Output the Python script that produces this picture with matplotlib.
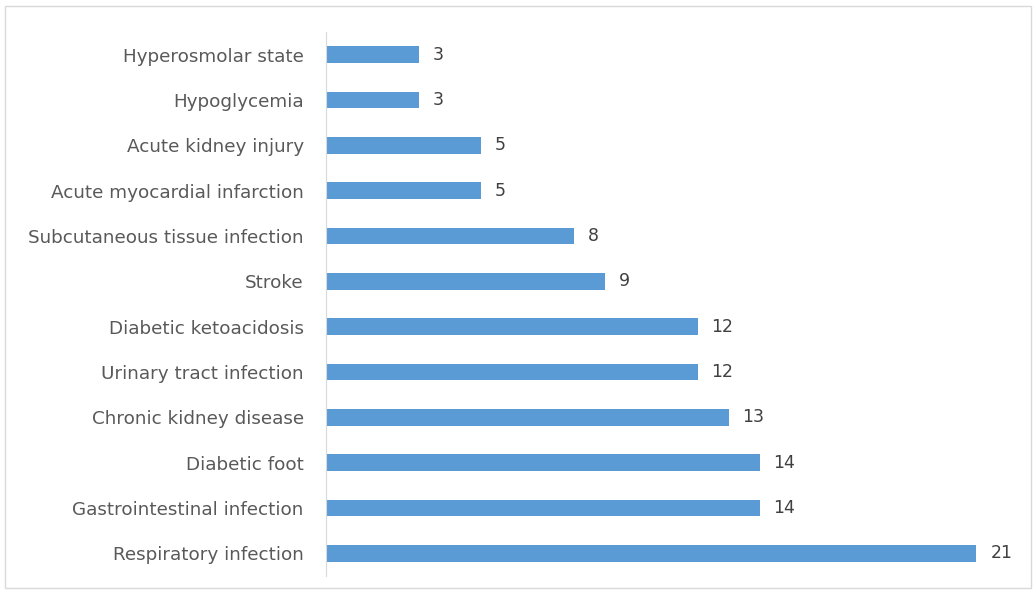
import matplotlib.pyplot as plt
from matplotlib.patches import Rectangle

categories = ['Hyperosmolar state', 'Hypoglycemia', 'Acute kidney injury',
              'Acute myocardial infarction', 'Subcutaneous tissue infection',
              'Stroke', 'Diabetic ketoacidosis', 'Urinary tract infection',
              'Chronic kidney disease', 'Diabetic foot',
              'Gastrointestinal infection', 'Respiratory infection']
counts = [3, 3, 5, 5, 8, 9, 12, 12, 13, 14, 14, 21]

fig = plt.figure(figsize=(10.36, 5.92), dpi=100)
ax = fig.add_axes([326 / 1036, 16 / 592, 700 / 1036, 544 / 592])

pos = list(range(len(categories)))
ax.barh(pos, counts, height=0.37, color='#5B9BD5')
for y, v in zip(pos, counts):
    ax.text(v + 0.45, y, str(v), va='center', ha='left', fontsize=12.5, color='#404040')

ax.set_yticks(pos)
ax.set_yticklabels(categories, fontsize=13.2, color='#595959')
ax.set_ylim(len(categories) - 0.5, -0.5)
ax.set_xlim(0, 22.6)
ax.tick_params(axis='y', length=0, pad=16)
ax.set_xticks([])
for s in ['top', 'right', 'bottom']:
    ax.spines[s].set_visible(False)
ax.spines['left'].set_color('#d9d9d9')

fig.patches.append(Rectangle((5 / 1036, 4 / 592), 1026 / 1036, 582 / 592,
                             transform=fig.transFigure, fill=False,
                             edgecolor='#d9d9d9', linewidth=1))

fig.savefig('out.png', dpi=100)
